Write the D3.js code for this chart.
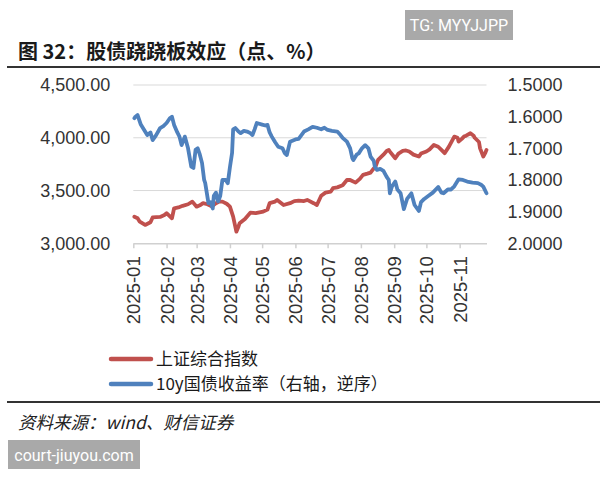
<!DOCTYPE html>
<html><head><meta charset="utf-8">
<script src="https://cdn.jsdelivr.net/npm/d3@7"></script>
<style>
html,body{margin:0;padding:0;background:#fff;}
svg{display:block;}
</style></head>
<body>
<svg id="chart" width="600" height="480"></svg>
<script>
const titleText = "图 32：股债跷跷板效应（点、%）";
const sourceText = "资料来源：wind、财信证券";
const seriesNames = ["上证综合指数", "10y国债收益率（右轴，逆序）"];
const monthTicks = ["2025-01","2025-02","2025-03","2025-04","2025-05","2025-06","2025-07","2025-08","2025-09","2025-10","2025-11"];
const leftTicks = [3000, 3500, 4000, 4500];
const rightTicks = [1.5, 1.6, 1.7, 1.8, 1.9, 2.0];

const shDates = ["2025-01-02","2025-01-05","2025-01-07","2025-01-12","2025-01-17","2025-01-19","2025-01-26","2025-01-30","2025-02-01","2025-02-06","2025-02-08","2025-02-12","2025-02-16","2025-02-21","2025-02-25","2025-03-01","2025-03-04","2025-03-07","2025-03-11","2025-03-15","2025-03-19","2025-03-22","2025-03-25","2025-03-29","2025-04-01","2025-04-04","2025-04-07","2025-04-09","2025-04-10","2025-04-15","2025-04-20","2025-04-25","2025-05-02","2025-05-06","2025-05-08","2025-05-13","2025-05-15","2025-05-21","2025-05-27","2025-05-31","2025-06-04","2025-06-09","2025-06-12","2025-06-18","2025-06-21","2025-06-25","2025-06-29","2025-07-04","2025-07-06","2025-07-10","2025-07-15","2025-07-19","2025-07-22","2025-07-27","2025-07-31","2025-08-03","2025-08-07","2025-08-10","2025-08-13","2025-08-14","2025-08-17","2025-08-22","2025-08-25","2025-08-27","2025-08-28","2025-09-02","2025-09-05","2025-09-09","2025-09-12","2025-09-15","2025-09-19","2025-09-24","2025-09-26","2025-10-01","2025-10-04","2025-10-08","2025-10-12","2025-10-15","2025-10-18","2025-10-22","2025-10-27","2025-10-30","2025-10-31","2025-11-03","2025-11-05","2025-11-07","2025-11-11","2025-11-14","2025-11-15","2025-11-19","2025-11-20","2025-11-23","2025-11-25","2025-11-26"];
const shValues = [3252,3237,3205,3174,3200,3245,3250,3268,3285,3237,3332,3340,3355,3370,3395,3347,3360,3380,3370,3350,3380,3395,3395,3375,3347,3252,3110,3160,3190,3230,3290,3285,3300,3320,3380,3395,3411,3363,3380,3400,3405,3400,3411,3380,3363,3450,3480,3490,3522,3530,3550,3600,3600,3575,3610,3648,3660,3670,3710,3711,3790,3840,3875,3885,3869,3806,3850,3875,3880,3870,3840,3822,3850,3870,3890,3932,3915,3885,3854,3916,4011,4000,3964,3990,4011,4020,4043,4020,4000,3960,3900,3822,3860,3885];

const bondDates = ["2025-01-02","2025-01-03","2025-01-05","2025-01-08","2025-01-10","2025-01-14","2025-01-17","2025-01-19","2025-01-22","2025-01-26","2025-01-29","2025-02-01","2025-02-04","2025-02-06","2025-02-08","2025-02-11","2025-02-13","2025-02-15","2025-02-18","2025-02-21","2025-02-24","2025-02-26","2025-02-28","2025-03-02","2025-03-04","2025-03-06","2025-03-08","2025-03-09","2025-03-12","2025-03-14","2025-03-16","2025-03-17","2025-03-19","2025-03-21","2025-03-23","2025-03-25","2025-03-28","2025-03-30","2025-04-01","2025-04-03","2025-04-04","2025-04-06","2025-04-09","2025-04-11","2025-04-14","2025-04-17","2025-04-20","2025-04-22","2025-04-24","2025-04-26","2025-05-01","2025-05-04","2025-05-06","2025-05-08","2025-05-10","2025-05-13","2025-05-16","2025-05-20","2025-05-22","2025-05-24","2025-05-27","2025-06-01","2025-06-04","2025-06-09","2025-06-13","2025-06-17","2025-06-21","2025-06-25","2025-06-28","2025-07-01","2025-07-05","2025-07-10","2025-07-13","2025-07-15","2025-07-19","2025-07-22","2025-07-24","2025-07-25","2025-07-28","2025-07-30","2025-08-02","2025-08-05","2025-08-08","2025-08-10","2025-08-13","2025-08-14","2025-08-16","2025-08-19","2025-08-22","2025-08-25","2025-08-27","2025-08-28","2025-08-30","2025-09-02","2025-09-04","2025-09-07","2025-09-10","2025-09-13","2025-09-17","2025-09-20","2025-09-24","2025-09-26","2025-09-29","2025-10-03","2025-10-07","2025-10-12","2025-10-15","2025-10-17","2025-10-21","2025-10-24","2025-10-27","2025-10-31","2025-11-04","2025-11-08","2025-11-13","2025-11-18","2025-11-21","2025-11-23","2025-11-26"];
const bondValues = [1.605,1.600,1.595,1.625,1.636,1.658,1.650,1.674,1.660,1.636,1.630,1.620,1.605,1.600,1.626,1.650,1.663,1.690,1.663,1.700,1.758,1.762,1.705,1.700,1.720,1.746,1.800,1.810,1.873,1.870,1.890,1.850,1.840,1.868,1.850,1.800,1.800,1.810,1.760,1.715,1.640,1.636,1.647,1.652,1.645,1.647,1.652,1.658,1.640,1.620,1.625,1.628,1.626,1.650,1.663,1.680,1.695,1.700,1.715,1.721,1.679,1.672,1.670,1.647,1.640,1.632,1.635,1.640,1.635,1.642,1.645,1.647,1.658,1.667,1.679,1.700,1.731,1.737,1.720,1.716,1.700,1.690,1.700,1.726,1.740,1.758,1.768,1.765,1.771,1.790,1.800,1.842,1.820,1.805,1.830,1.842,1.892,1.860,1.842,1.879,1.898,1.870,1.860,1.850,1.840,1.822,1.840,1.842,1.830,1.830,1.820,1.798,1.800,1.805,1.808,1.810,1.815,1.821,1.842];

const redColor = "#c0504d";
const blueColor = "#4f81bd";
const parse = d3.timeParse("%Y-%m-%d");
const parseM = d3.timeParse("%Y-%m");

const svg = d3.select("#chart");
const pLeft = 133.3, pRight = 486.5, pTop = 85, pBottom = 243.3;

const x = d3.scaleTime().domain([parse("2025-01-01"), parse("2025-11-26")]).range([pLeft, pRight]);
const yL = d3.scaleLinear().domain([3000, 4500]).range([pBottom, pTop]);
const yR = d3.scaleLinear().domain([1.5, 2.0]).range([pTop, pBottom]);

// watermark top
svg.append("rect").attr("x",405).attr("y",10).attr("width",108).attr("height",30).attr("fill","#a9a9a9");
svg.append("text").attr("x",459).attr("y",31).attr("text-anchor","middle").attr("fill","#fff")
  .style("font-family","Roboto, 'Liberation Sans', sans-serif").style("font-size","16px").text("TG: MYYJJPP");

// title
svg.append("text").attr("x",18).attr("y",59).attr("fill","#1a1a1a")
  .style("font-family","'Noto Sans CJK SC', sans-serif").style("font-weight","700").style("font-size","20px")
  .text(titleText);
svg.append("line").attr("x1",7).attr("x2",600).attr("y1",67).attr("y2",67).attr("stroke","#333").attr("stroke-width",2);

// gridlines
svg.append("g").selectAll("line").data(leftTicks.filter(v => v !== 3000)).join("line")
  .attr("x1",pLeft).attr("x2",pRight).attr("y1",d=>yL(d)).attr("y2",d=>yL(d))
  .attr("stroke","#d9d9d9").attr("stroke-width",1);

const axisFont = "'Liberation Sans', Arial, sans-serif";

// left axis
const gL = svg.append("g").attr("transform",`translate(${pLeft},0)`)
  .call(d3.axisLeft(yL).tickValues(leftTicks).tickFormat(d3.format(",.2f")).tickSize(0).tickPadding(23));
gL.select(".domain").remove();
gL.selectAll("text").attr("fill","#333").style("font-family",axisFont).style("font-size","18px");

// right axis
const gR = svg.append("g").attr("transform",`translate(${pRight},0)`)
  .call(d3.axisRight(yR).tickValues(rightTicks).tickFormat(d3.format(".4f")).tickSize(0).tickPadding(21));
gR.select(".domain").remove();
gR.selectAll("text").attr("fill","#333").style("font-family",axisFont).style("font-size","18px");

// x axis
const gX = svg.append("g").attr("transform",`translate(0,${pBottom})`)
  .call(d3.axisBottom(x).tickValues(monthTicks.map(parseM)).tickFormat(d3.timeFormat("%Y-%m")).tickSize(5).tickSizeOuter(0));
gX.select(".domain").attr("stroke","#d0d0d0").attr("stroke-width",1.5);
gX.selectAll(".tick line").attr("stroke","#d0d0d0").attr("stroke-width",1.5);
gX.selectAll("text").attr("fill","#333").style("font-family",axisFont).style("font-size","18.5px")
  .attr("transform","rotate(-90)").attr("x",-13).attr("y",0).attr("dy","0.35em").style("text-anchor","end");

// lines
const shData = shDates.map((d,i)=>({date:parse(d), v:shValues[i]}));
const bondData = bondDates.map((d,i)=>({date:parse(d), v:bondValues[i]}));
svg.append("path").datum(shData).attr("fill","none").attr("stroke",redColor).attr("stroke-width",3.8)
  .attr("stroke-linejoin","round").attr("stroke-linecap","round")
  .attr("d", d3.line().x(d=>x(d.date)).y(d=>yL(d.v)));
svg.append("path").datum(bondData).attr("fill","none").attr("stroke",blueColor).attr("stroke-width",3.8)
  .attr("stroke-linejoin","round").attr("stroke-linecap","round")
  .attr("d", d3.line().x(d=>x(d.date)).y(d=>yR(d.v)));

// legend
const legend = svg.append("g");
[redColor, blueColor].forEach((c,i)=>{
  const yy = 359 + i*25;
  legend.append("line").attr("x1",111).attr("x2",151).attr("y1",yy).attr("y2",yy)
    .attr("stroke",c).attr("stroke-width",4.5).attr("stroke-linecap","round");
  legend.append("text").attr("x",156).attr("y",yy).attr("dy","0.36em").attr("fill","#1a1a1a")
    .style("font-family","'Noto Sans CJK SC', sans-serif").style("font-size","17px").text(seriesNames[i]);
});
svg.append("line").attr("x1",7).attr("x2",600).attr("y1",402).attr("y2",402).attr("stroke","#333").attr("stroke-width",2);

// source
svg.append("text").attr("x",18).attr("y",429).attr("fill","#222")
  .style("font-family","'Noto Sans CJK SC', sans-serif").style("font-style","italic").style("font-size","17.5px")
  .text(sourceText);

// watermark bottom
svg.append("rect").attr("x",8).attr("y",440).attr("width",132).attr("height",29).attr("fill","#a9a9a9");
svg.append("text").attr("x",74).attr("y",460.5).attr("text-anchor","middle").attr("fill","#fff")
  .style("font-family","Roboto, 'Liberation Sans', sans-serif").style("font-size","16px").text("court-jiuyou.com");
</script>
</body></html>
